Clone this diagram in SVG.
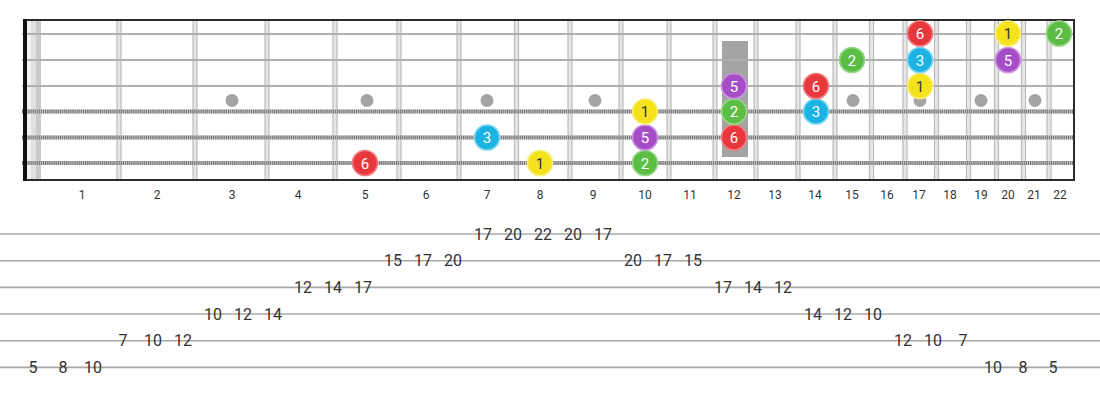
<svg xmlns="http://www.w3.org/2000/svg" width="1100" height="400" viewBox="0 0 1100 400">
<style>
.fret{fill:#e6e6e6;stroke:#bdbdbd;stroke-width:1.2}
.plain{stroke:#b0b0b0;stroke-width:2}
.woundbase{stroke:#c8c8c8;stroke-width:4}
.wound{stroke:#7a7a7a;stroke-width:4;stroke-dasharray:1.2 0.9}
.inlay{fill:#a4a4a4}
.note{stroke-width:1.6}
.nt{font-family:Roboto,"Liberation Sans",sans-serif;font-size:15px;text-anchor:middle;fill:#fff}
.flab{font-family:Roboto,"Liberation Sans",sans-serif;font-size:12px;text-anchor:middle;fill:#333}
.tabl{stroke:#a8a8a8;stroke-width:1.6}
.tn{font-family:Roboto,"Liberation Sans",sans-serif;font-size:16px;text-anchor:middle;fill:#333}
.red{fill:#e8383d;stroke:#f27d80}
.yel{fill:#f4e21c;stroke:#f8ee7a}
.grn{fill:#5cbd45;stroke:#96d888}
.cyn{fill:#1ab3e2;stroke:#7fd6f2}
.pur{fill:#a54dc6;stroke:#cd92e2}
</style>
<rect width="1100" height="400" fill="#fff"/>
<g id="fretboard">
<rect x="26" y="20" width="1048" height="160" fill="#fff"/>
<rect x="27" y="20" width="4" height="160" fill="#f2f2f2"/>
<rect x="31" y="20" width="5" height="160" fill="#e0e0e0"/>
<rect x="36" y="20" width="5" height="160" fill="#cacaca"/>
<g id="frets">
<rect class="fret" x="117" y="20" width="4" height="160"/>
<rect class="fret" x="193" y="20" width="4" height="160"/>
<rect class="fret" x="265" y="20" width="4" height="160"/>
<rect class="fret" x="333" y="20" width="4" height="160"/>
<rect class="fret" x="397" y="20" width="4" height="160"/>
<rect class="fret" x="457" y="20" width="4" height="160"/>
<rect class="fret" x="514.5" y="20" width="4" height="160"/>
<rect class="fret" x="568" y="20" width="4" height="160"/>
<rect class="fret" x="619" y="20" width="4" height="160"/>
<rect class="fret" x="667" y="20" width="4" height="160"/>
<rect class="fret" x="713" y="20" width="4" height="160"/>
<rect class="fret" x="754" y="20" width="4" height="160"/>
<rect class="fret" x="796" y="20" width="4" height="160"/>
<rect class="fret" x="833" y="20" width="4" height="160"/>
<rect class="fret" x="869.5" y="20" width="4" height="160"/>
<rect class="fret" x="903" y="20" width="4" height="160"/>
<rect class="fret" x="934.5" y="20" width="4" height="160"/>
<rect class="fret" x="966.5" y="20" width="4" height="160"/>
<rect class="fret" x="994.5" y="20" width="4" height="160"/>
<rect class="fret" x="1021.5" y="20" width="4" height="160"/>
<rect class="fret" x="1047" y="20" width="4" height="160"/>
</g>
<g id="inlays">
<circle class="inlay" cx="232" cy="100.5" r="6.5"/>
<circle class="inlay" cx="367" cy="100.5" r="6.5"/>
<circle class="inlay" cx="487" cy="100.5" r="6.5"/>
<circle class="inlay" cx="595" cy="100.5" r="6.5"/>
<rect class="inlay" x="722" y="41" width="26" height="116"/>
<circle class="inlay" cx="853" cy="100.5" r="6.5"/>
<circle class="inlay" cx="920" cy="100.5" r="6.5"/>
<circle class="inlay" cx="981" cy="100.5" r="6.5"/>
<circle class="inlay" cx="1035" cy="100.5" r="6.5"/>
</g>
<g id="strings">
<line class="plain" x1="22" y1="34" x2="1075" y2="34"/>
<line class="plain" x1="22" y1="60" x2="1075" y2="60"/>
<line class="plain" x1="22" y1="86" x2="1075" y2="86"/>
<line class="woundbase" x1="22" y1="111.5" x2="1075" y2="111.5"/>
<line class="wound" x1="22" y1="111.5" x2="1075" y2="111.5"/>
<line class="woundbase" x1="22" y1="137.5" x2="1075" y2="137.5"/>
<line class="wound" x1="22" y1="137.5" x2="1075" y2="137.5"/>
<line class="woundbase" x1="22" y1="163" x2="1075" y2="163"/>
<line class="wound" x1="22" y1="163" x2="1075" y2="163"/>
</g>
<g id="border">
<line x1="23" y1="20" x2="1075" y2="20" stroke="#2a2a2a" stroke-width="2"/>
<line x1="23" y1="180" x2="1075" y2="180" stroke="#2a2a2a" stroke-width="2"/>
<line x1="1074" y1="19" x2="1074" y2="181" stroke="#2a2a2a" stroke-width="2"/>
<rect x="23" y="19" width="4" height="162" fill="#111"/>
</g>
</g>
<g id="notes">
<g id="n-s6-f5"><circle class="note red" cx="365" cy="163" r="12.5"/><text class="nt" x="365" y="168.5">6</text></g>
<g id="n-s6-f8"><circle class="note yel" cx="540" cy="163" r="12.5"/><text class="nt" x="540" y="168.5" fill="#333" style="fill:#333">1</text></g>
<g id="n-s6-f10"><circle class="note grn" cx="645" cy="163" r="12.5"/><text class="nt" x="645" y="168.5">2</text></g>
<g id="n-s5-f7"><circle class="note cyn" cx="487" cy="137.5" r="12.5"/><text class="nt" x="487" y="143">3</text></g>
<g id="n-s5-f10"><circle class="note pur" cx="645" cy="137.5" r="12.5"/><text class="nt" x="645" y="143">5</text></g>
<g id="n-s5-f12"><circle class="note red" cx="734" cy="137.5" r="12.5"/><text class="nt" x="734" y="143">6</text></g>
<g id="n-s4-f10"><circle class="note yel" cx="645" cy="111.5" r="12.5"/><text class="nt" x="645" y="117" style="fill:#333">1</text></g>
<g id="n-s4-f12"><circle class="note grn" cx="734" cy="111.5" r="12.5"/><text class="nt" x="734" y="117">2</text></g>
<g id="n-s4-f14"><circle class="note cyn" cx="816" cy="111.5" r="12.5"/><text class="nt" x="816" y="117">3</text></g>
<g id="n-s3-f12"><circle class="note pur" cx="734" cy="86" r="12.5"/><text class="nt" x="734" y="91.5">5</text></g>
<g id="n-s3-f14"><circle class="note red" cx="816" cy="86" r="12.5"/><text class="nt" x="816" y="91.5">6</text></g>
<g id="n-s3-f17"><circle class="note yel" cx="920" cy="86" r="12.5"/><text class="nt" x="920" y="91.5" style="fill:#333">1</text></g>
<g id="n-s2-f15"><circle class="note grn" cx="852" cy="60" r="12.5"/><text class="nt" x="852" y="65.5">2</text></g>
<g id="n-s2-f17"><circle class="note cyn" cx="920" cy="60" r="12.5"/><text class="nt" x="920" y="65.5">3</text></g>
<g id="n-s2-f20"><circle class="note pur" cx="1008" cy="60" r="12.5"/><text class="nt" x="1008" y="65.5">5</text></g>
<g id="n-s1-f17"><circle class="note red" cx="920" cy="33.5" r="12.5"/><text class="nt" x="920" y="39">6</text></g>
<g id="n-s1-f20"><circle class="note yel" cx="1008" cy="33.5" r="12.5"/><text class="nt" x="1008" y="39" style="fill:#333">1</text></g>
<g id="n-s1-f22"><circle class="note grn" cx="1059" cy="33.5" r="12.5"/><text class="nt" x="1059" y="39">2</text></g>
</g>
<g id="fret-labels">
<text class="flab" x="82" y="198.5">1</text>
<text class="flab" x="157" y="198.5">2</text>
<text class="flab" x="232" y="198.5">3</text>
<text class="flab" x="298" y="198.5">4</text>
<text class="flab" x="365" y="198.5">5</text>
<text class="flab" x="426" y="198.5">6</text>
<text class="flab" x="487" y="198.5">7</text>
<text class="flab" x="540" y="198.5">8</text>
<text class="flab" x="593" y="198.5">9</text>
<text class="flab" x="645" y="198.5">10</text>
<text class="flab" x="690" y="198.5">11</text>
<text class="flab" x="734" y="198.5">12</text>
<text class="flab" x="775" y="198.5">13</text>
<text class="flab" x="815" y="198.5">14</text>
<text class="flab" x="852" y="198.5">15</text>
<text class="flab" x="887" y="198.5">16</text>
<text class="flab" x="919" y="198.5">17</text>
<text class="flab" x="950" y="198.5">18</text>
<text class="flab" x="981" y="198.5">19</text>
<text class="flab" x="1008" y="198.5">20</text>
<text class="flab" x="1034" y="198.5">21</text>
<text class="flab" x="1060" y="198.5">22</text>
</g>
<g id="tab-lines">
<line class="tabl" x1="0" y1="234" x2="1100" y2="234"/>
<line class="tabl" x1="0" y1="260.7" x2="1100" y2="260.7"/>
<line class="tabl" x1="0" y1="287.4" x2="1100" y2="287.4"/>
<line class="tabl" x1="0" y1="314" x2="1100" y2="314"/>
<line class="tabl" x1="0" y1="340.7" x2="1100" y2="340.7"/>
<line class="tabl" x1="0" y1="367.4" x2="1100" y2="367.4"/>
</g>
<g id="tab-numbers">
<text class="tn" x="33" y="373">5</text>
<text class="tn" x="63" y="373">8</text>
<text class="tn" x="93" y="373">10</text>
<text class="tn" x="123" y="346.3">7</text>
<text class="tn" x="153" y="346.3">10</text>
<text class="tn" x="183" y="346.3">12</text>
<text class="tn" x="213" y="319.6">10</text>
<text class="tn" x="243" y="319.6">12</text>
<text class="tn" x="273" y="319.6">14</text>
<text class="tn" x="303" y="293">12</text>
<text class="tn" x="333" y="293">14</text>
<text class="tn" x="363" y="293">17</text>
<text class="tn" x="393" y="266.3">15</text>
<text class="tn" x="423" y="266.3">17</text>
<text class="tn" x="453" y="266.3">20</text>
<text class="tn" x="483" y="239.6">17</text>
<text class="tn" x="513" y="239.6">20</text>
<text class="tn" x="543" y="239.6">22</text>
<text class="tn" x="573" y="239.6">20</text>
<text class="tn" x="603" y="239.6">17</text>
<text class="tn" x="633" y="266.3">20</text>
<text class="tn" x="663" y="266.3">17</text>
<text class="tn" x="693" y="266.3">15</text>
<text class="tn" x="723" y="293">17</text>
<text class="tn" x="753" y="293">14</text>
<text class="tn" x="783" y="293">12</text>
<text class="tn" x="813" y="319.6">14</text>
<text class="tn" x="843" y="319.6">12</text>
<text class="tn" x="873" y="319.6">10</text>
<text class="tn" x="903" y="346.3">12</text>
<text class="tn" x="933" y="346.3">10</text>
<text class="tn" x="963" y="346.3">7</text>
<text class="tn" x="993" y="373">10</text>
<text class="tn" x="1023" y="373">8</text>
<text class="tn" x="1053" y="373">5</text>
</g>
</svg>
